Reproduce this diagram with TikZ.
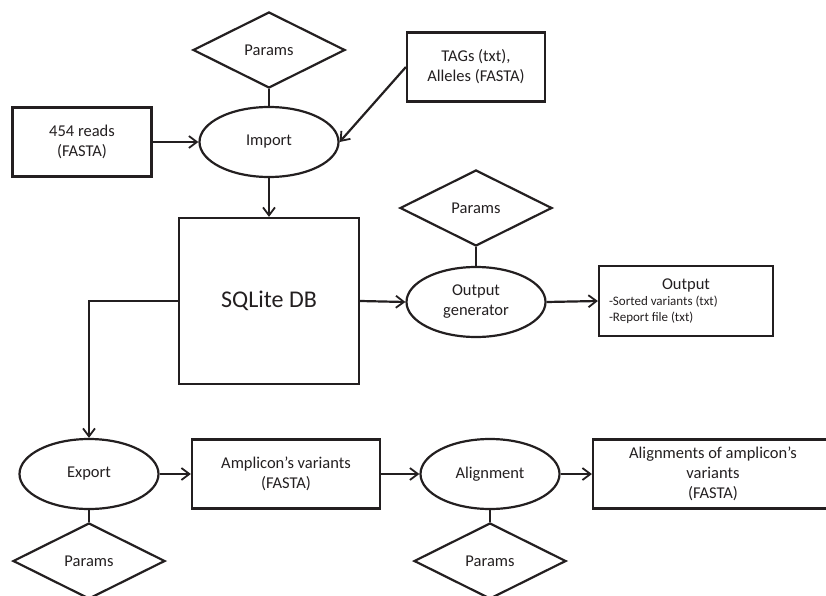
\documentclass[tikz,border=0pt]{standalone}
\usepackage{fontspec}
\setmainfont{Carlito}
\usetikzlibrary{shapes.geometric,arrows.meta}
\definecolor{ink}{HTML}{231F20}
\tikzset{
  base/.style={draw=ink, line width=2.2pt, text=ink, font=\fontsize{16.5}{20}\selectfont, align=center, inner sep=0pt},
  boxnode/.style={base, rectangle, minimum width=#1, minimum height=69pt},
  ovalnode/.style={base, ellipse, minimum width=139pt, minimum height=70pt},
  parnode/.style={base, diamond, aspect=2, minimum width=152pt, minimum height=76pt},
  link/.style={draw=ink, line width=2.2pt},
  flow/.style={link, -{Straight Barb[length=8pt,width=12pt,line width=1.8pt]}}
}
\begin{document}
\begin{tikzpicture}[x=1pt,y=-1pt]
\useasboundingbox (0,0) rectangle (826,596);
\clip (0,0) rectangle (826,596);
\node[parnode] (p1) at (269,50) {Params};
\node[ovalnode] (imp) at (269,142) {Import};
\node[boxnode=139pt] (reads) at (82,142) {454 reads\\(FASTA)};
\node[boxnode=138pt] (tags) at (476,67) {TAGs (txt),\\Alleles (FASTA)};
\node[base, rectangle, minimum width=180pt, minimum height=166pt, font=\fontsize{24}{28}\selectfont] (db) at (269,301) {SQLite DB};
\node[parnode] (p2) at (476,208) {Params};
\node[ovalnode] (gen) at (476,302) {Output\\generator};
\node[boxnode=174pt, minimum height=70pt] (out) at (686,301) {\parbox{154pt}{\centering Output\par\raggedright\fontsize{13}{16}\selectfont -Sorted variants (txt)\\-Report file (txt)}};
\node[ovalnode] (exp) at (89,474) {Export};
\node[boxnode=188pt] (amp) at (286,474) {Amplicon’s variants\\(FASTA)};
\node[ovalnode] (aln) at (490,474) {Alignment};
\node[boxnode=240pt] (alns) at (713,474) {Alignments of amplicon’s\\variants\\(FASTA)};
\node[parnode] (p3) at (89,561) {Params};
\node[parnode] (p4) at (490,561) {Params};

\draw[link] (p1.south) -- (imp.north);
\draw[flow] (reads.east) -- (imp.west);
\draw[flow] (tags.west) -- (imp.east);
\draw[flow] (imp.south) -- (db.north);
\draw[link] (p2.south) -- (gen.north);
\draw[flow] (db.east) -- (gen.west);
\draw[flow] (gen.east) -- (out.west);
\draw[flow] (db.west) -| (exp.north);
\draw[flow] (exp.east) -- (amp.west);
\draw[flow] (amp.east) -- (aln.west);
\draw[flow] (aln.east) -- (alns.west);
\draw[link] (exp.south) -- (p3.north);
\draw[link] (aln.south) -- (p4.north);
\end{tikzpicture}
\end{document}
